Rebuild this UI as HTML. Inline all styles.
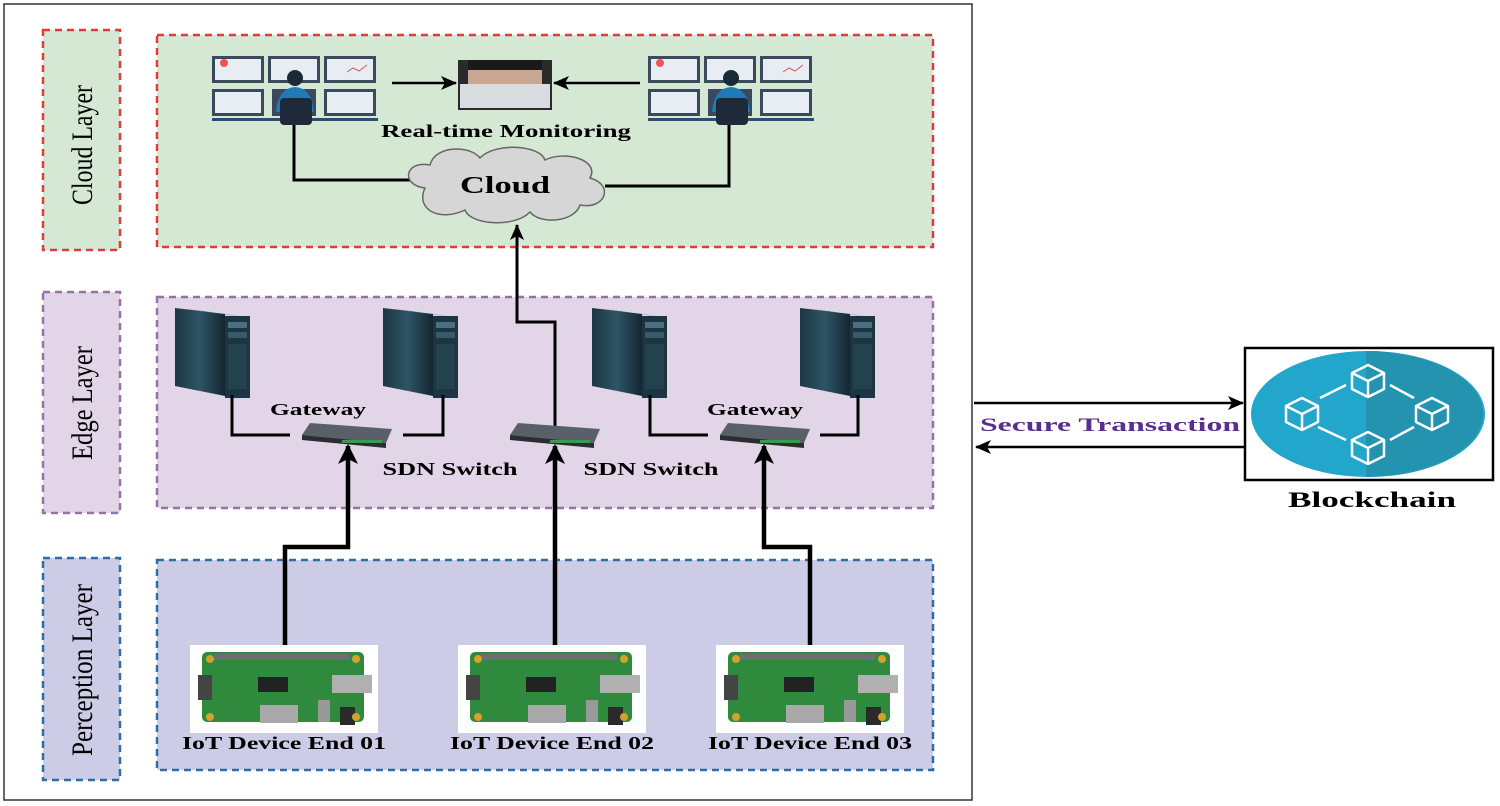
<!DOCTYPE html>
<html><head><meta charset="utf-8"><style>
html,body{margin:0;padding:0;background:#fff;}
svg{display:block;}
text{font-family:"Liberation Serif",serif;font-weight:bold;}
</style></head><body>
<svg width="1500" height="806" viewBox="0 0 1500 806" xmlns="http://www.w3.org/2000/svg">
<defs>
 <marker id="ah" markerWidth="16" markerHeight="14" refX="15" refY="7" orient="auto" markerUnits="userSpaceOnUse"><path d="M0,0 L16,7 L0,14 L4,7 Z" fill="#000"/></marker>
 <marker id="ahb" markerWidth="20" markerHeight="20" refX="18" refY="10" orient="auto" markerUnits="userSpaceOnUse"><path d="M0,0 L20,10 L0,20 L5,10 Z" fill="#000"/></marker>
 <linearGradient id="srv" x1="0" x2="1"><stop offset="0" stop-color="#1d3644"/><stop offset=".5" stop-color="#2e5566"/><stop offset="1" stop-color="#142630"/></linearGradient>
 <g id="server">
  <polygon points="0,0 50,6 50,88 0,78" fill="url(#srv)"/>
  <polygon points="0,0 50,6 75,10 28,3" fill="#3b6576"/>
  <rect x="50" y="8" width="25" height="82" fill="#1c3542"/>
  <rect x="53" y="14" width="19" height="6" fill="#4a7080"/>
  <rect x="53" y="24" width="19" height="6" fill="#3a5a68"/>
  <rect x="53" y="36" width="19" height="45" fill="#24414e"/>
 </g>
 <g id="switch">
  <polygon points="8,0 90,6 84,20 0,12" fill="#5a6068"/>
  <polygon points="0,12 84,20 84,25 0,17" fill="#2a2e33"/>
  <rect x="40" y="17" width="40" height="3" fill="#3c9a4c"/>
 </g>
 <g id="board">
  <rect x="0" y="0" width="188" height="88" fill="#fff"/>
  <rect x="12" y="7" width="162" height="70" rx="5" fill="#2f8a3d"/>
  <rect x="24" y="9" width="135" height="6" fill="#6e6e6e"/>
  <rect x="68" y="32" width="30" height="15" fill="#222"/>
  <rect x="142" y="30" width="40" height="18" fill="#b0b0b0"/>
  <rect x="8" y="30" width="14" height="25" fill="#444"/>
  <rect x="70" y="60" width="38" height="18" fill="#a9a9a9"/>
  <rect x="128" y="55" width="12" height="22" fill="#999"/>
  <rect x="150" y="62" width="15" height="18" fill="#2a2a2a"/>
  <circle cx="20" cy="14" r="4" fill="#d4a22a"/><circle cx="166" cy="14" r="4" fill="#d4a22a"/>
  <circle cx="20" cy="72" r="4" fill="#d4a22a"/><circle cx="166" cy="72" r="4" fill="#d4a22a"/>
 </g>
 <g id="monitors">
  <rect x="0" y="2" width="52" height="27" fill="#3a4a5c"/><rect x="3" y="5" width="46" height="21" fill="#e8edf4"/>
  <rect x="56" y="2" width="52" height="27" fill="#3a4a5c"/><rect x="59" y="5" width="46" height="21" fill="#e8edf4"/>
  <rect x="112" y="2" width="52" height="27" fill="#3a4a5c"/><rect x="115" y="5" width="46" height="21" fill="#e8edf4"/>
  <rect x="0" y="35" width="52" height="27" fill="#3a4a5c"/><rect x="3" y="38" width="46" height="21" fill="#e8edf4"/>
  <rect x="112" y="35" width="52" height="27" fill="#3a4a5c"/><rect x="115" y="38" width="46" height="21" fill="#e8edf4"/>
  <rect x="60" y="35" width="44" height="27" fill="#3a4a5c"/>
  <circle cx="12" cy="9" r="4" fill="#e55"/><path d="M135 18 l6 -4 l6 3 l8 -6" stroke="#d55" fill="none"/>
  <rect x="0" y="64" width="166" height="3" fill="#2b4e6e"/>
  <circle cx="83" cy="24" r="8" fill="#1c2a36"/>
  <path d="M64 58 Q66 34 83 33 Q100 34 102 58 Z" fill="#1f7ab8"/>
  <rect x="68" y="44" width="32" height="27" rx="4" fill="#1e2a3a"/>
 </g>
 <g id="cube" fill="none" stroke="#fff" stroke-width="2.5" stroke-linejoin="round">
  <path d="M0,-14 L16,-6 L16,10 L0,18 L-16,10 L-16,-6 Z"/>
  <path d="M-16,-6 L0,2 L16,-6 M0,2 L0,18"/>
 </g>
</defs>

<rect x="4" y="4" width="968" height="796" fill="#fff" stroke="#333" stroke-width="1.5"/>

<rect x="43" y="30" width="77" height="220" fill="#d5e8d4" stroke="#e03b3b" stroke-width="2.5" stroke-dasharray="7,5"/>
<rect x="43" y="292" width="77" height="221" fill="#e1d5e7" stroke="#9673a6" stroke-width="2.5" stroke-dasharray="7,5"/>
<rect x="43" y="558" width="77" height="222" fill="#cccce6" stroke="#2a6fa8" stroke-width="2.5" stroke-dasharray="7,5"/>
<text transform="translate(92,145) rotate(-90)" text-anchor="middle" font-size="30" style="font-weight:normal" textLength="120" lengthAdjust="spacingAndGlyphs">Cloud Layer</text>
<text transform="translate(92,403) rotate(-90)" text-anchor="middle" font-size="30" style="font-weight:normal" textLength="114" lengthAdjust="spacingAndGlyphs">Edge Layer</text>
<text transform="translate(92,670) rotate(-90)" text-anchor="middle" font-size="30" style="font-weight:normal" textLength="172" lengthAdjust="spacingAndGlyphs">Perception Layer</text>

<rect x="157" y="35" width="776" height="212" fill="#d5e8d4" stroke="#e03b3b" stroke-width="2.5" stroke-dasharray="7,5"/>
<rect x="157" y="297" width="776" height="211" fill="#e1d5e7" stroke="#9673a6" stroke-width="2.5" stroke-dasharray="7,5"/>
<rect x="157" y="560" width="776" height="210" fill="#cccce6" stroke="#2a6fa8" stroke-width="2.5" stroke-dasharray="7,5"/>

<use href="#monitors" x="212" y="54"/>
<use href="#monitors" x="648" y="54"/>
<rect x="458" y="60" width="94" height="50" fill="#2a2a2a"/>
<rect x="468" y="62" width="74" height="30" fill="#c9a690"/>
<rect x="468" y="60" width="74" height="10" fill="#1a1a1a"/>
<rect x="460" y="84" width="90" height="24" fill="#d8dbe0"/>
<line x1="392" y1="83" x2="456" y2="83" stroke="#000" stroke-width="2.5" marker-end="url(#ah)"/>
<line x1="640" y1="83" x2="554" y2="83" stroke="#000" stroke-width="2.5" marker-end="url(#ah)"/>
<text x="506" y="137" text-anchor="middle" font-size="18" textLength="250" lengthAdjust="spacingAndGlyphs">Real-time Monitoring</text>
<polyline points="294,125 294,180 410,180" fill="none" stroke="#000" stroke-width="3"/>
<polyline points="729,125 729,186 605,186" fill="none" stroke="#000" stroke-width="3"/>
<path d="M425,188 C400,185 405,160 430,165 C435,145 470,145 480,158 C495,142 540,145 545,160 C565,150 600,160 590,178 C615,185 605,210 580,205 C575,222 540,225 530,212 C515,228 470,225 465,210 C440,222 415,210 425,188 Z" fill="#d6d6d6" stroke="#666" stroke-width="1.5"/>
<text x="505" y="193" text-anchor="middle" font-size="24" textLength="90" lengthAdjust="spacingAndGlyphs">Cloud</text>

<polyline points="555,428 555,322 517,322 517,225" fill="none" stroke="#000" stroke-width="3" marker-end="url(#ah)"/>

<use href="#server" x="175" y="308"/>
<use href="#server" x="383" y="308"/>
<use href="#server" x="592" y="308"/>
<use href="#server" x="800" y="308"/>
<polyline points="232,395 232,435 290,435" fill="none" stroke="#000" stroke-width="3"/>
<polyline points="403,435 443,435 443,395" fill="none" stroke="#000" stroke-width="3"/>
<polyline points="650,395 650,435 708,435" fill="none" stroke="#000" stroke-width="3"/>
<polyline points="820,435 858,435 858,395" fill="none" stroke="#000" stroke-width="3"/>
<use href="#switch" x="302" y="423"/>
<use href="#switch" x="510" y="423"/>
<use href="#switch" x="720" y="423"/>
<text x="318" y="415" text-anchor="middle" font-size="17" textLength="96" lengthAdjust="spacingAndGlyphs">Gateway</text>
<text x="755" y="415" text-anchor="middle" font-size="17" textLength="96" lengthAdjust="spacingAndGlyphs">Gateway</text>
<text x="450" y="475" text-anchor="middle" font-size="18" textLength="135" lengthAdjust="spacingAndGlyphs">SDN Switch</text>
<text x="651" y="475" text-anchor="middle" font-size="18" textLength="135" lengthAdjust="spacingAndGlyphs">SDN Switch</text>

<polyline points="285,645 285,547 348,547 348,446" fill="none" stroke="#000" stroke-width="4.5" marker-end="url(#ahb)"/>
<polyline points="555,645 555,446" fill="none" stroke="#000" stroke-width="4.5" marker-end="url(#ahb)"/>
<polyline points="810,645 810,547 764,547 764,446" fill="none" stroke="#000" stroke-width="4.5" marker-end="url(#ahb)"/>

<use href="#board" x="190" y="645"/>
<use href="#board" x="458" y="645"/>
<use href="#board" x="716" y="645"/>
<text x="284" y="749" text-anchor="middle" font-size="18" textLength="204" lengthAdjust="spacingAndGlyphs">IoT Device End 01</text>
<text x="552" y="749" text-anchor="middle" font-size="18" textLength="204" lengthAdjust="spacingAndGlyphs">IoT Device End 02</text>
<text x="810" y="749" text-anchor="middle" font-size="18" textLength="204" lengthAdjust="spacingAndGlyphs">IoT Device End 03</text>

<line x1="974" y1="403" x2="1243" y2="403" stroke="#000" stroke-width="2.5" marker-end="url(#ah)"/>
<line x1="1244" y1="447" x2="976" y2="447" stroke="#000" stroke-width="2.5" marker-end="url(#ah)"/>
<text x="1110" y="431" text-anchor="middle" font-size="19" fill="#5b2d8e" textLength="260" lengthAdjust="spacingAndGlyphs">Secure Transaction</text>
<rect x="1245" y="348" width="248" height="132" fill="#fff" stroke="#000" stroke-width="2.5"/>
<ellipse cx="1368" cy="414" rx="117" ry="63" fill="#22a6cc"/>
<path d="M1366,351 A117,63 0 0 1 1366,477 Z" fill="#2393b0"/>
<g stroke="#fff" stroke-width="2.5">
 <line x1="1320" y1="398" x2="1346" y2="385"/>
 <line x1="1390" y1="385" x2="1414" y2="398"/>
 <line x1="1318" y1="427" x2="1346" y2="440"/>
 <line x1="1390" y1="440" x2="1414" y2="427"/>
</g>
<use href="#cube" x="1368" y="379"/>
<use href="#cube" x="1302" y="412"/>
<use href="#cube" x="1432" y="412"/>
<use href="#cube" x="1368" y="446"/>
<text x="1372" y="507" text-anchor="middle" font-size="22" textLength="168" lengthAdjust="spacingAndGlyphs">Blockchain</text>
</svg>
</body></html>
